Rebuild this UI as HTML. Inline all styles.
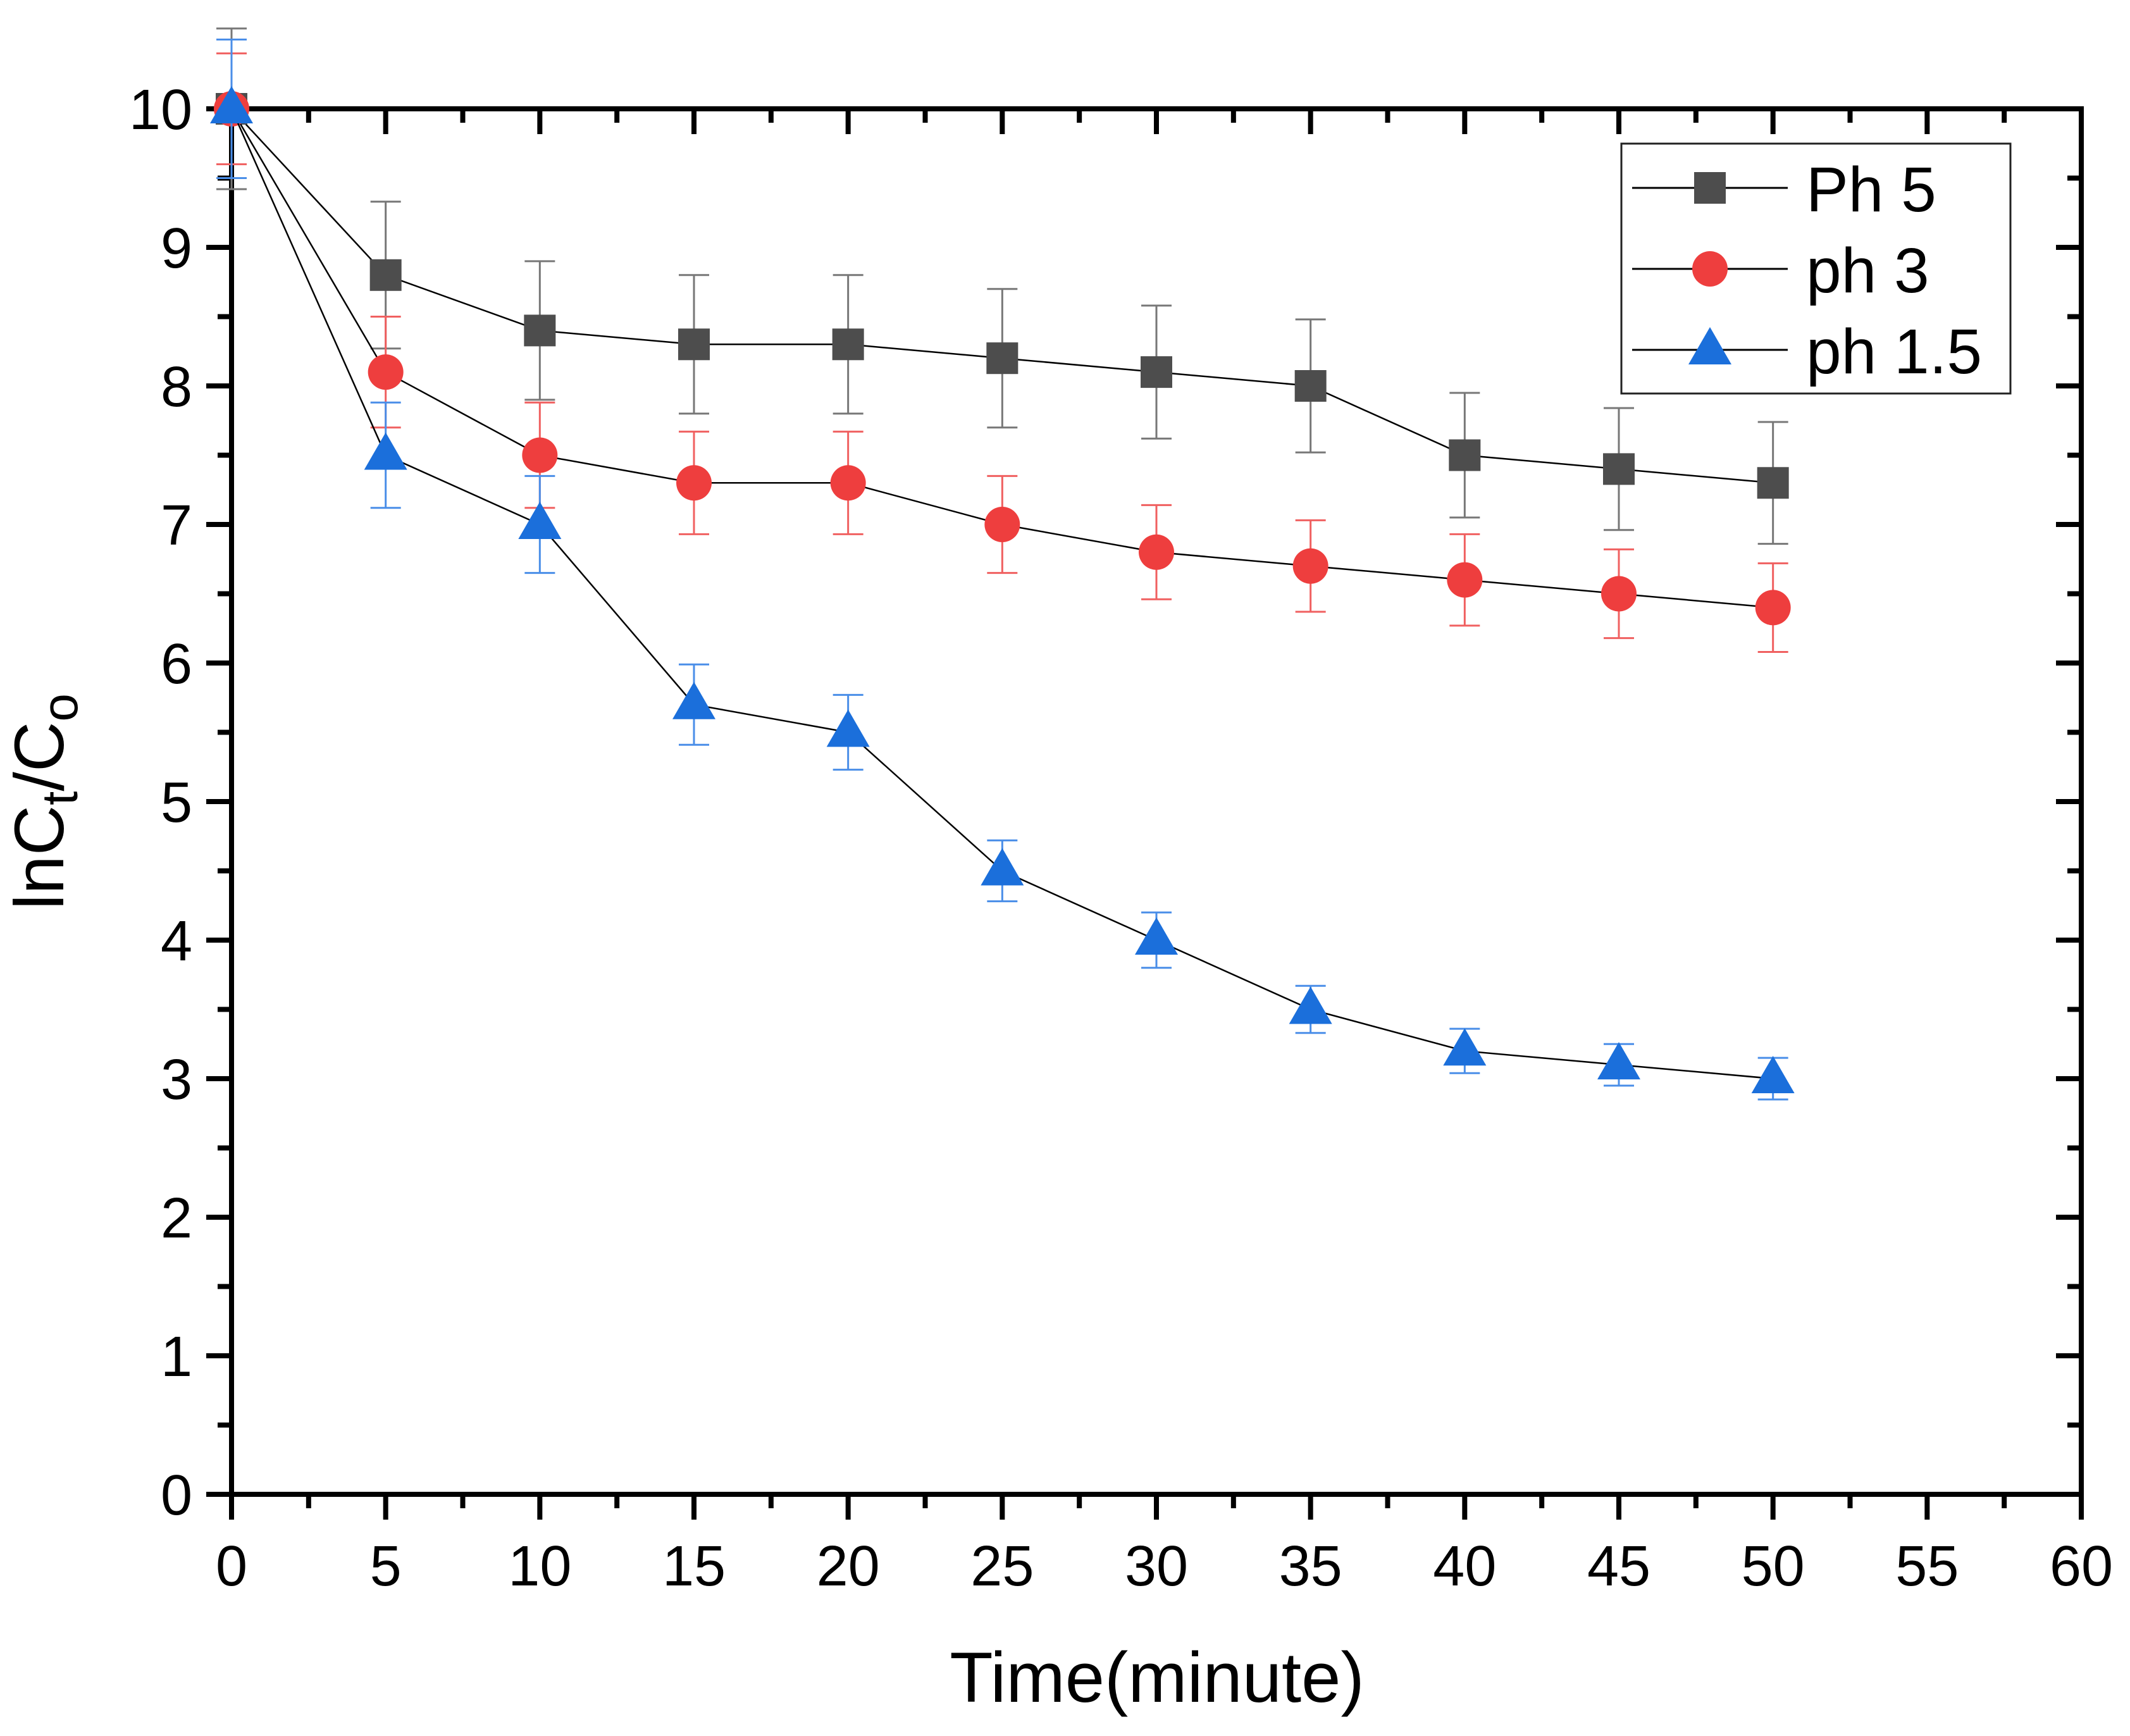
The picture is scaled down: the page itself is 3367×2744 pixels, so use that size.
<!DOCTYPE html>
<html><head><meta charset="utf-8"><style>
html,body{margin:0;padding:0;background:#fff;}
svg{display:block;font-family:"Liberation Sans",Arial,sans-serif;}
</style></head><body>
<svg id="chart" width="3367" height="2744" viewBox="0 0 3367 2744" xmlns="http://www.w3.org/2000/svg">
<g id="axes"></g>
<g id="series"></g>
<g id="legend"></g>
<text x="1829" y="2690" font-size="112" text-anchor="middle">Time(minute)</text>
<text transform="translate(100,1267) rotate(-90)" font-size="110" text-anchor="middle">lnC<tspan font-size="80" dy="22">t</tspan><tspan dy="-22">/C</tspan><tspan font-size="80" dy="22">o</tspan></text>
</svg>
<script>
const times=[0,5,10,15,20,25,30,35,40,45,50];
const ph5=[10,8.8,8.4,8.3,8.3,8.2,8.1,8.0,7.5,7.4,7.3];
const ph5Err=[0.58,0.53,0.5,0.5,0.5,0.5,0.48,0.48,0.45,0.44,0.44];
const ph3=[10,8.1,7.5,7.3,7.3,7.0,6.8,6.7,6.6,6.5,6.4];
const ph3Err=[0.4,0.4,0.38,0.37,0.37,0.35,0.34,0.33,0.33,0.32,0.32];
const ph15=[10,7.5,7.0,5.7,5.5,4.5,4.0,3.5,3.2,3.1,3.0];
const ph15Err=[0.5,0.38,0.35,0.29,0.27,0.22,0.2,0.17,0.16,0.15,0.15];
const xTicks=[0,5,10,15,20,25,30,35,40,45,50,55,60];
const yTicks=[0,1,2,3,4,5,6,7,8,9,10];
const seriesNames=["Ph 5","ph 3","ph 1.5"];

const NS="http://www.w3.org/2000/svg";
const L=366,R=3290,T=172,B=2362;
const X=v=>L+(v-0)/(60-0)*(R-L);
const Y=v=>B-(v-0)/(10-0)*(B-T);
function mk(tag,attrs,parent){const e=document.createElementNS(NS,tag);for(const k in attrs)e.setAttribute(k,attrs[k]);parent.appendChild(e);return e;}
const axes=document.getElementById('axes');
const fr=mk('rect',{x:L,y:T,width:R-L,height:B-T,fill:'none',stroke:'#000','stroke-width':8},axes);


for(let i=0;i<=24;i++){
  const v=i*2.5,x=X(v),maj=i%2===0,len=maj?40:22;
  const t1=mk('line',{x1:x,y1:B,x2:x,y2:B+len,stroke:'#000','stroke-width':8},axes);
  
  
  const t2=mk('line',{x1:x,y1:T,x2:x,y2:T+len,stroke:'#000','stroke-width':8},axes);
  
  
}
for(let i=0;i<=20;i++){
  const v=i*0.5,y=Y(v),maj=i%2===0,len=maj?40:22;
  const t1=mk('line',{x1:L-len,y1:y,x2:L,y2:y,stroke:'#000','stroke-width':8},axes);
  
  
  const t2=mk('line',{x1:R-len,y1:y,x2:R,y2:y,stroke:'#000','stroke-width':8},axes);
  
  
}
xTicks.forEach(v=>{const t=mk('text',{x:X(v),y:B+144,'font-size':90,'text-anchor':'middle'},axes);t.textContent=v;
  
  });
yTicks.forEach(v=>{const t=mk('text',{x:L-62,y:Y(v)+32,'font-size':90,'text-anchor':'end'},axes);t.textContent=v;
  
  });

const ser=document.getElementById('series');
function marker(type,cx,cy,color,parent){
  let m;
  if(type==='sq') m=mk('rect',{x:cx-25,y:cy-25,width:50,height:50,fill:color},parent);
  else if(type==='ci') m=mk('ellipse',{cx:cx,cy:cy,rx:28,ry:28,fill:color},parent);
  else m=mk('polygon',{points:`${cx},${cy-36} ${cx-34},${cy+23} ${cx+34},${cy+23}`,fill:color},parent);
  return m;
}
const defs=[[ph5,ph5Err,'#4d4d4d','#777','sq','ph5'],[ph3,ph3Err,'#ee3e3e','#f06060','ci','ph3'],[ph15,ph15Err,'#1b6fdb','#4a8ee8','tr','ph15']];
defs.forEach(([vals,errs,col,ecol,type,nm])=>{
  const g=mk('g',{},ser);
  
  
  const pts=times.map((t,i)=>X(t)+','+Y(vals[i])).join(' ');
  const pl=mk('polyline',{points:pts,fill:'none',stroke:'#000','stroke-width':2.5},g);
  
  
  times.forEach((t,i)=>{
    const x=X(t),y1=Y(vals[i]+errs[i]),y2=Y(vals[i]-errs[i]);
    const eb=mk('path',{d:`M${x},${y1}V${y2}M${x-24},${y1}H${x+24}M${x-24},${y2}H${x+24}`,stroke:ecol,'stroke-width':3,fill:'none'},g);
    
    
  });
  times.forEach((t,i)=>{
    const m=marker(type,X(t),Y(vals[i]),col,g);
    
    
  });
});

const lg=document.getElementById('legend');
const box=mk('rect',{x:2563,y:227,width:615,height:395,fill:'#fff',stroke:'#222','stroke-width':3},lg);


const ly=[297,425,553];
defs.forEach(([v,e,col,ec,type,nm],i)=>{
  const g=mk('g',{},lg);
  
  
  mk('line',{x1:2580,y1:ly[i],x2:2826,y2:ly[i],stroke:'#000','stroke-width':3},g);
  marker(type,2703,ly[i],col,g);
  const t=mk('text',{x:2855,y:ly[i]+37,'font-size':100},g);
  t.textContent=seriesNames[i];
});
</script>
</body></html>
